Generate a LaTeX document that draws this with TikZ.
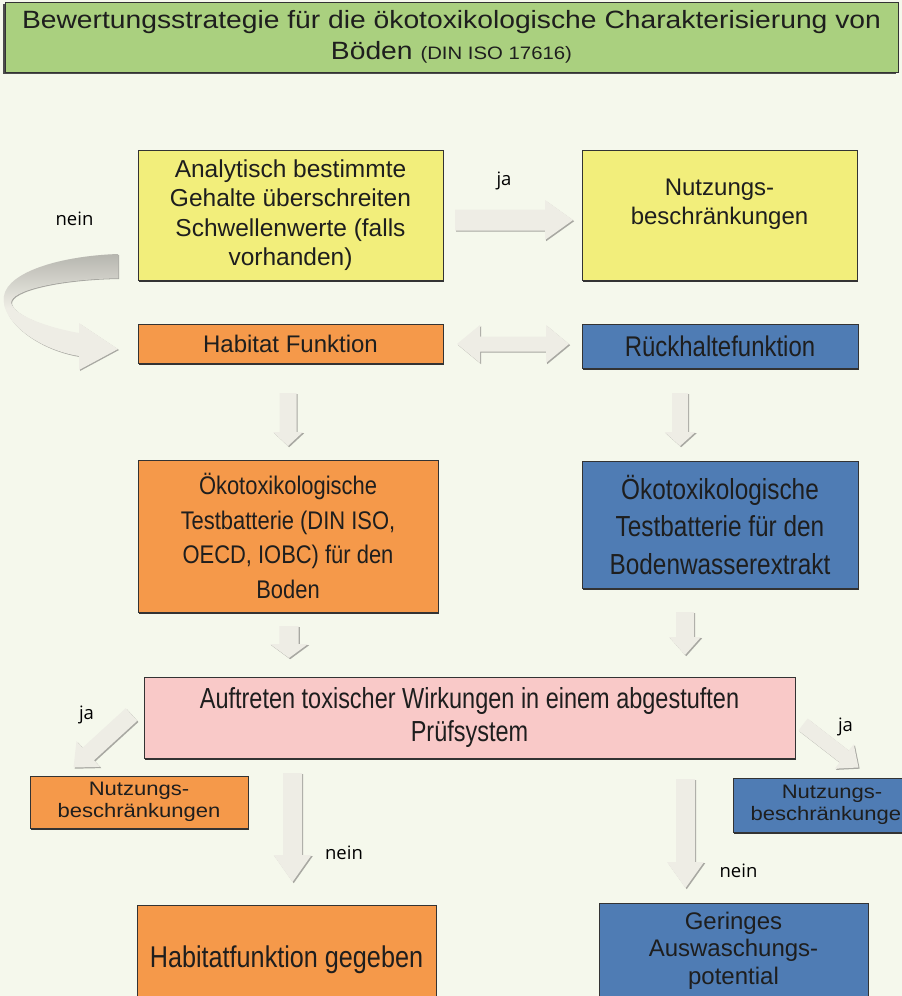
\documentclass[tikz,border=0pt]{standalone}
\usepackage{fontspec}
\setmainfont{Liberation Sans}
\newfontfamily\condfont[FakeStretch=0.84]{Liberation Sans}
\newfontfamily\xcondfont[FakeStretch=0.81]{Liberation Sans}
\newfontfamily\okfont[FakeStretch=0.86]{Liberation Sans}
\newfontfamily\widefont[FakeStretch=1.13]{Liberation Sans}
\newfontfamily\labelfont{Open Sans}
\usetikzlibrary{calc,shadows}

\definecolor{bgcol}{HTML}{F5F8EC}
\definecolor{titlegreen}{HTML}{AAD07F}
\definecolor{yel}{HTML}{F2EE7B}
\definecolor{orng}{HTML}{F5994A}
\definecolor{blu}{HTML}{4F7CB4}
\definecolor{pnk}{HTML}{F9C9C8}
\definecolor{txtcol}{HTML}{1E1E1E}
\definecolor{arrowfill}{HTML}{EEEDE5}
\definecolor{arrowedge}{HTML}{A8A8A2}
\definecolor{curvegray}{HTML}{B2B2AB}

\tikzset{
  boxbase/.style={draw=black!80, line width=0.8pt, text=txtcol, inner sep=0pt, align=center},
  box/.style={boxbase, drop shadow={shadow xshift=1.2pt, shadow yshift=-1.8pt, fill=black!80, opacity=1}},
  lbl/.style={font=\labelfont\fontsize{18.5}{21}\selectfont, text=black, inner sep=0pt},
}

% block arrow: #1 tail, #2 tip, #3 shaft half width, #4 head half width, #5 head length
\newcommand\barrow[5]{%
  \path let \p1=(#1), \p2=(#2) in \pgfextra{%
    \pgfmathsetmacro\tmpang{atan2((\y2)-(\y1),(\x2)-(\x1))}%
    \pgfmathsetmacro\tmplen{veclen((\x2)-(\x1),(\y2)-(\y1))}%
    \xdef\baang{\tmpang}\xdef\balen{\tmplen}%
    \xdef\bax{\x1}\xdef\bay{\y1}};
  \foreach \ddx/\ddy/\dcol in {1.2/-1.2/arrowedge,0/0/arrowfill}{%
    \fill[fill=\dcol, shift={(\bax+\ddx pt,\bay+\ddy pt)}, rotate=\baang]
      (0pt,{#3pt}) -- ({\balen pt-#5pt},{#3pt}) -- ({\balen pt-#5pt},{#4pt})
      -- ({\balen pt},0pt) -- ({\balen pt-#5pt},{-#4pt}) -- ({\balen pt-#5pt},{-#3pt})
      -- (0pt,{-#3pt}) -- cycle;}%
}
% double block arrow
\newcommand\dbarrow[5]{%
  \path let \p1=(#1), \p2=(#2) in \pgfextra{%
    \pgfmathsetmacro\tmpang{atan2((\y2)-(\y1),(\x2)-(\x1))}%
    \pgfmathsetmacro\tmplen{veclen((\x2)-(\x1),(\y2)-(\y1))}%
    \xdef\baang{\tmpang}\xdef\balen{\tmplen}%
    \xdef\bax{\x1}\xdef\bay{\y1}};
  \foreach \ddx/\ddy/\dcol in {1.2/-1.2/arrowedge,0/0/arrowfill}{%
    \fill[fill=\dcol, shift={(\bax+\ddx pt,\bay+\ddy pt)}, rotate=\baang]
      (0pt,0pt) -- ({#5pt},{#4pt}) -- ({#5pt},{#3pt}) -- ({\balen pt-#5pt},{#3pt}) -- ({\balen pt-#5pt},{#4pt})
      -- ({\balen pt},0pt) -- ({\balen pt-#5pt},{-#4pt}) -- ({\balen pt-#5pt},{-#3pt})
      -- ({#5pt},{-#3pt}) -- ({#5pt},{-#4pt}) -- cycle;}%
}

\def\curvepath{(118,254) .. controls (60,256) and (8,272) .. (4,296) .. controls (0,322) and (40,350) .. (79,356) -- (79,370) -- (118,349) -- (79,323) -- (79,333) .. controls (45,327) and (14,315) .. (11,303) .. controls (10,290) and (60,279) .. (118,278) -- cycle}

\begin{document}
\begin{tikzpicture}[x=1pt,y=-1pt]
\useasboundingbox (0,0) rectangle (902,996);
\clip (0,0) rectangle (902,996);
\fill[bgcol] (0,0) rectangle (902,996);

% title
\node[boxbase, fill=titlegreen, minimum width=893pt, minimum height=70pt,
  drop shadow={shadow xshift=-2pt, shadow yshift=-2pt, fill=black!70, opacity=1},
  font=\widefont\fontsize{25}{31}\selectfont] (title) at (451.5,37)
  {Bewertungsstrategie für die ökotoxikologische Charakterisierung von\\Böden {\fontsize{18}{22}\selectfont (DIN ISO 17616)}};

% boxes
\node[box, fill=yel, minimum width=305pt, minimum height=130pt, font=\fontsize{24.5}{29.5}\selectfont] (an) at (290.5,215)
  {Analytisch bestimmte\\Gehalte überschreiten\\Schwellenwerte (falls\\vorhanden)};
\node[box, fill=yel, minimum width=275pt, minimum height=130pt] (nu1) at (719.5,215) {};
\node[text=txtcol, align=center, inner sep=0pt, font=\fontsize{24}{29}\selectfont] (nu1t) at (719.5,204) {Nutzungs-\\beschränkungen};

\node[box, fill=orng, minimum width=305pt, minimum height=39pt, font=\fontsize{24}{28}\selectfont] (hab) at (290.5,343.5) {Habitat Funktion};
\node[box, fill=blu, minimum width=276pt, minimum height=44pt, font=\condfont\fontsize{28.5}{32}\selectfont] (rue) at (720,346) {Rückhaltefunktion};

\node[box, fill=orng, minimum width=300pt, minimum height=152pt, font=\okfont\fontsize{25.5}{34.5}\selectfont] (oko1) at (288,536)
  {Ökotoxikologische\\Testbatterie (DIN ISO,\\OECD, IOBC) für den\\Boden};
\node[box, fill=blu, minimum width=276pt, minimum height=127pt, font=\condfont\fontsize{29}{37.5}\selectfont] (oko2) at (720,524.5)
  {Ökotoxikologische\\Testbatterie für den\\Bodenwasserextrakt};

\node[box, fill=pnk, minimum width=651pt, minimum height=81pt, font=\xcondfont\fontsize{29}{33}\selectfont] (pink) at (469.5,717.5)
  {Auftreten toxischer Wirkungen in einem abgestuften\\Prüfsystem};

\node[box, fill=orng, minimum width=218pt, minimum height=52pt, font=\widefont\fontsize{19.5}{22.5}\selectfont] (nu2) at (139,802) {Nutzungs-\\beschränkungen};
\node[box, fill=blu, minimum width=198pt, minimum height=54pt, font=\widefont\fontsize{19.5}{22.5}\selectfont] (nu3) at (832,805) {Nutzungs-\\beschränkungen};

\node[box, fill=orng, minimum width=299pt, minimum height=110pt, font=\condfont\fontsize{30}{34}\selectfont] (hab2) at (286.5,960) {Habitatfunktion gegeben};
\node[box, fill=blu, minimum width=269pt, minimum height=95pt, font=\fontsize{24}{27.5}\selectfont] (ger) at (733.5,950.5) {Geringes\\Auswaschungs-\\potential};

% curved "nein" arrow from an to hab
\fill[arrowedge, shift={(1,1)}] \curvepath;
\fill[arrowfill] \curvepath;
\begin{scope}
  \clip \curvepath;
  \shade[top color=curvegray, bottom color=arrowfill] (0,250) rectangle (120,308);
\end{scope}

% arrow coordinates
\coordinate (a1s) at (455,220);   \coordinate (a1e) at (573,220);
\coordinate (a2s) at (457,344);   \coordinate (a2e) at (569,344);
\coordinate (a3s) at (288,393);   \coordinate (a3e) at (288,446);
\coordinate (a4s) at (680,393);   \coordinate (a4e) at (680,446);
\coordinate (a5s) at (289,626);   \coordinate (a5e) at (289,658);
\coordinate (a6s) at (685,612);   \coordinate (a6e) at (685,655);
\coordinate (a7s) at (292.5,773); \coordinate (a7e) at (292.5,882);
\coordinate (a8s) at (685.5,779); \coordinate (a8e) at (685.5,888);
\coordinate (a9s) at (131.5,714.5); \coordinate (a9e) at (73.5,767.5);
\coordinate (a10s) at (803,724.5); \coordinate (a10e) at (858.5,767.5);

\barrow{a1s}{a1e}{10.5}{20}{28}
\dbarrow{a2s}{a2e}{7.5}{19}{23}
\barrow{a3s}{a3e}{8.5}{15}{14}
\barrow{a4s}{a4e}{8}{15.5}{14}
\barrow{a5s}{a5e}{9.7}{19}{14}
\barrow{a6s}{a6e}{9}{16}{18}
\barrow{a7s}{a7e}{9.5}{19}{27}
\barrow{a8s}{a8e}{9.5}{18.5}{26}
\barrow{a9s}{a9e}{8.5}{17.5}{20}
\barrow{a10s}{a10e}{7.5}{15.5}{18}

% labels
\node[lbl] (l1) at (504,181) {ja};
\node[lbl] (l2) at (74.5,218.5) {nein};
\node[lbl] (l3) at (86.5,715) {ja};
\node[lbl] (l4) at (344,853) {nein};
\node[lbl] (l5) at (845.5,727) {ja};
\node[lbl] (l6) at (738.5,871) {nein};
\end{tikzpicture}
\end{document}
